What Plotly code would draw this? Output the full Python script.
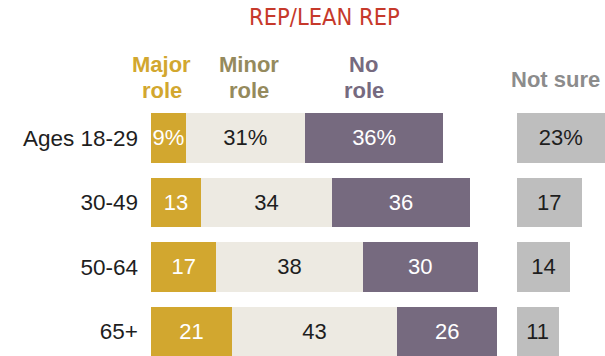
import plotly.graph_objects as go

categories = ["Ages 18-29", "30-49", "50-64", "65+"]
major_role = [9, 13, 17, 21]
minor_role = [31, 34, 38, 43]
no_role = [36, 36, 30, 26]
not_sure = [23, 17, 14, 11]

series_names = ["Major role", "Minor role", "No role", "Not sure"]
bar_colors = ["#D2A72F", "#EDEAE2", "#766A7F", "#BEBEBE"]
text_colors = ["#FFFFFF", "#1E1E1E", "#FFFFFF", "#1E1E1E"]
header_colors = ["#D2A72F", "#958A5D", "#766A7F", "#8C8C8C"]
title_text = "REP/LEAN REP"

NOT_SURE_BASE = 95
W, H = 605, 356
L, T = 151, 106


def labels(vals):
    return [f"{v}%" if i == 0 else str(v) for i, v in enumerate(vals)]


fig = go.Figure()
for name, vals, col, tcol in zip(series_names[:3], [major_role, minor_role, no_role],
                                 bar_colors[:3], text_colors[:3]):
    fig.add_trace(go.Bar(
        y=categories, x=vals, orientation="h", name=name,
        marker=dict(color=col, line=dict(width=0)),
        text=labels(vals), textposition="inside", insidetextanchor="middle",
        textangle=0, constraintext="none",
        textfont=dict(family="Liberation Sans, Arial, sans-serif", size=22, color=tcol),
        width=0.765, hoverinfo="skip",
    ))

fig.add_trace(go.Bar(
    y=categories, x=not_sure, base=NOT_SURE_BASE, orientation="h", name=series_names[3],
    marker=dict(color=bar_colors[3], line=dict(width=0)),
    text=labels(not_sure), textposition="inside", insidetextanchor="middle",
    textangle=0, constraintext="none",
    textfont=dict(family="Liberation Sans, Arial, sans-serif", size=22, color=text_colors[3]),
    width=0.765, hoverinfo="skip",
))


def px_x(px):
    return (px - L) / (W - L)


def px_y(py):
    return (H - py) / (H - T)


annotations = [
    dict(text=title_text, x=px_x(324), y=px_y(17.5), xref="paper", yref="paper",
         xanchor="center", yanchor="middle", showarrow=False,
         font=dict(family="DejaVu Sans Condensed, sans-serif", size=23.5,
                   color="#C6392B")),
]
header_lines = [("Major", "role"), ("Minor", "role"), ("No", "role")]
header_x = [161.7, 249, 363.5]
for (l1, l2), hx, hc in zip(header_lines, header_x, header_colors[:3]):
    for txt, hy in ((l1, 64.8), (l2, 90.4)):
        annotations.append(dict(
            text=txt, x=px_x(hx), y=px_y(hy), xref="paper", yref="paper",
            xanchor="center", yanchor="middle", showarrow=False,
            font=dict(family="Liberation Sans, Arial, sans-serif", size=22,
                      color=hc, weight="bold")))
annotations.append(dict(
    text=series_names[3], x=px_x(555), y=px_y(79.4), xref="paper", yref="paper",
    xanchor="center", yanchor="middle", showarrow=False,
    font=dict(family="Liberation Sans, Arial, sans-serif", size=22,
              color=header_colors[3], weight="bold")))

fig.update_layout(
    width=W, height=H, barmode="stack", showlegend=False,
    margin=dict(l=L, r=0, t=T, b=0, pad=0),
    paper_bgcolor="white", plot_bgcolor="white",
    xaxis=dict(range=[0, 118], visible=False, fixedrange=True),
    yaxis=dict(type="category", categoryorder="array", categoryarray=categories,
               range=[3.383, -0.4965], showgrid=False, zeroline=False, showline=False,
               ticks="", ticklabelstandoff=12, fixedrange=True,
               tickfont=dict(family="Liberation Sans, Arial, sans-serif", size=22.5,
                             color="#1E1E1E")),
    annotations=annotations,
)

fig.write_html(
    "out.html",
    config={"displayModeBar": False},
    post_script="document.body.style.margin='0';document.body.style.overflow='hidden';",
)
